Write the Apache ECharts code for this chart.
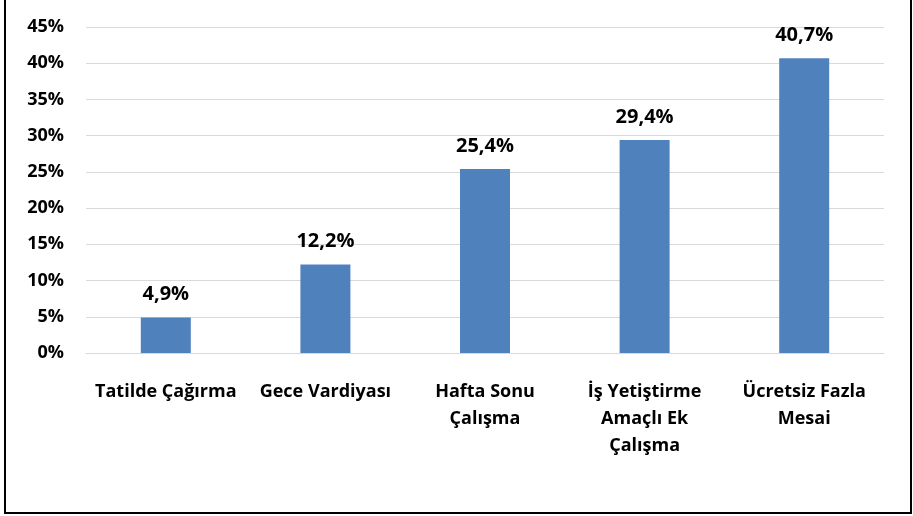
<!DOCTYPE html>
<html>
<head>
<meta charset="utf-8">
<script src="https://cdn.jsdelivr.net/npm/echarts@6/dist/echarts.min.js"></script>
<style>
  html, body { margin: 0; padding: 0; background: #fff; }
  #frame {
    position: absolute; left: 4px; top: 0; width: 904px; height: 512px;
    border-left: 2px solid #000; border-right: 2px solid #000; border-bottom: 2px solid #000;
  }
  #chart { position: absolute; left: 0; top: 0; width: 913px; height: 516px; }
</style>
</head>
<body>
<div id="frame"></div>
<div id="chart"></div>
<script>
// values, in percent
const categories = ['Tatilde Çağırma', 'Gece Vardiyası', 'Hafta Sonu\nÇalışma', 'İş Yetiştirme\nAmaçlı Ek\nÇalışma', 'Ücretsiz Fazla\nMesai']
const values = [4.9, 12.2, 25.4, 29.4, 40.7]

const font = '"Open Sans", sans-serif'

const chart = echarts.init(document.getElementById('chart'))
chart.setOption({
  animation: false,
  grid: { left: 86, right: 29, top: 27, bottom: 163, containLabel: false },
  xAxis: {
    type: 'category',
    data: categories,
    axisLine: { lineStyle: { color: '#d9d9d9', width: 1 } },
    axisTick: { show: false },
    axisLabel: {
      interval: 0,
      margin: 25,
      color: '#000',
      fontFamily: font,
      fontWeight: 'bold',
      fontSize: 18,
      lineHeight: 27
    }
  },
  yAxis: {
    type: 'value',
    min: 0,
    max: 45,
    interval: 5,
    axisLine: { show: false },
    axisTick: { show: false },
    splitLine: { lineStyle: { color: '#d9d9d9', width: 1 } },
    axisLabel: {
      margin: 22,
      color: '#000',
      fontFamily: font,
      fontWeight: 'bold',
      fontSize: 18,
      formatter: v => v + '%'
    }
  },
  series: [{
    type: 'bar',
    data: values,
    barWidth: 50,
    itemStyle: { color: '#4f81bd' },
    label: {
      show: true,
      position: 'top',
      distance: 13,
      color: '#000',
      fontFamily: font,
      fontWeight: 'bold',
      fontSize: 20,
      formatter: p => String(p.value).replace('.', ',') + '%'
    }
  }]
})
</script>
</body>
</html>
